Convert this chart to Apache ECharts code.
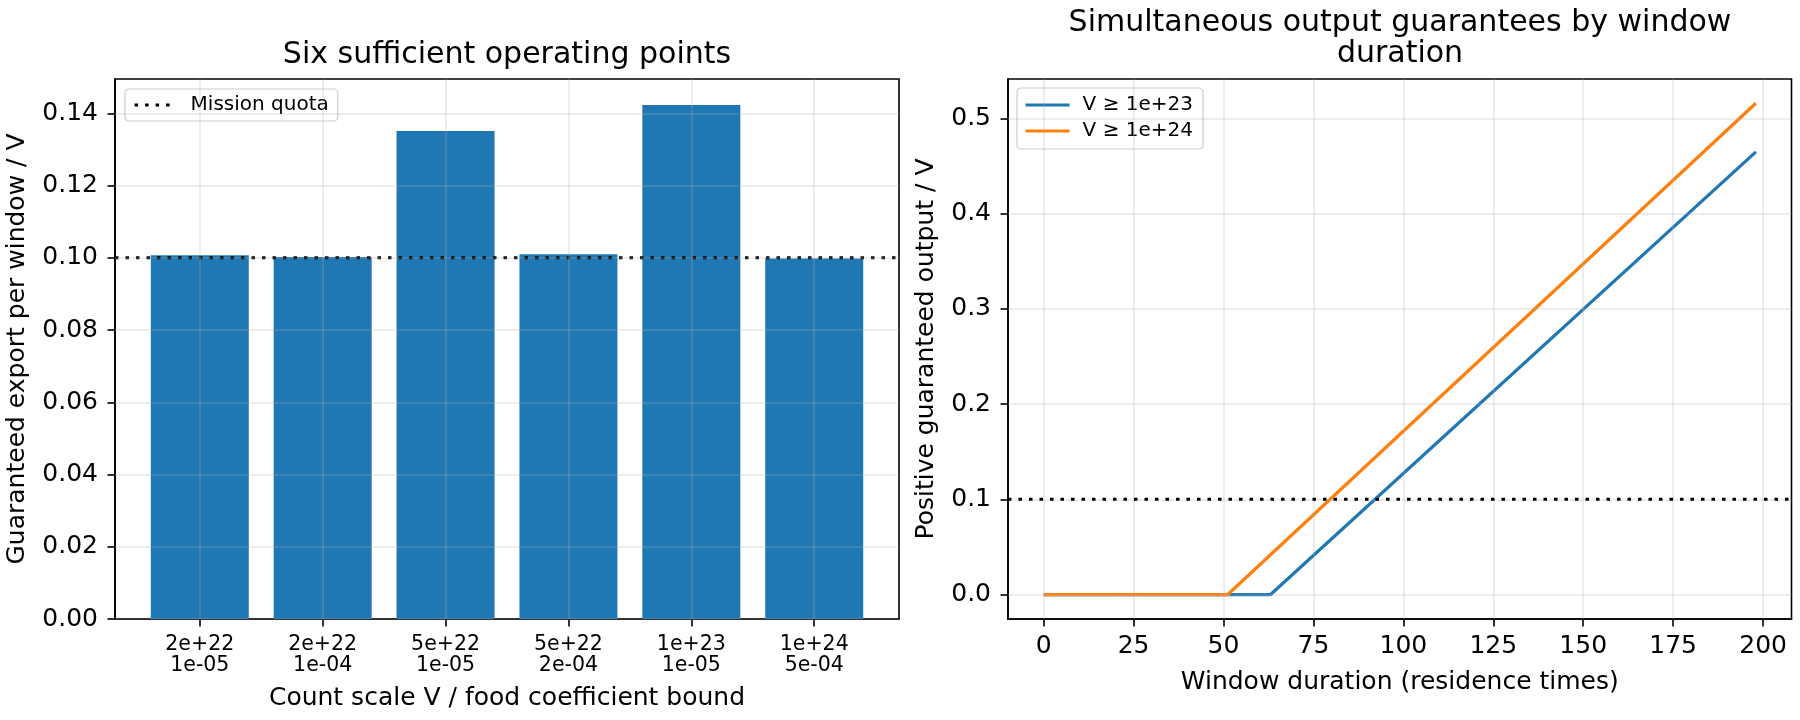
<!DOCTYPE html>
<html>
<head>
<meta charset="utf-8">
<script src="https://cdn.jsdelivr.net/npm/echarts@6/dist/echarts.min.js"></script>
<style>
html, body { margin: 0; padding: 0; background: #fff; }
#main { width: 1800px; height: 720px; }
</style>
</head>
<body>
<div id="main"></div>
<script>
// left panel: operating points
var countScales = ['2e+22', '2e+22', '5e+22', '5e+22', '1e+23', '1e+24'];
var foodBounds = ['1e-05', '1e-04', '1e-05', '2e-04', '1e-05', '5e-04'];
var exportPerWindow = [0.1007, 0.1002, 0.1351, 0.1010, 0.1423, 0.0998];
var missionQuota = 0.10;
var leftYTicks = [0, 0.02, 0.04, 0.06, 0.08, 0.10, 0.12, 0.14];
var leftXTicks = [0, 1, 2, 3, 4, 5];

// right panel: guarantees vs window duration
var durationTicks = [0, 25, 50, 75, 100, 125, 150, 175, 200];
var rightYTicks = [0, 0.1, 0.2, 0.3, 0.4, 0.5];
var guarantee23 = [[0, 0], [63.1, 0], [198, 0.465]];
var guarantee24 = [[0, 0], [51.2, 0], [198, 0.516]];

var FONT = 'DejaVu Sans';
var BLUE = '#1f77b4';
var ORANGE = '#ff7f0e';

var myChart = echarts.init(document.getElementById('main'));

// matplotlib-like grid lines, drawn as mark lines so they can sit above the bars
function gridLines(xs, ys) {
    return {
        silent: true,
        symbol: 'none',
        animation: false,
        label: { show: false },
        emphasis: { disabled: true },
        lineStyle: { color: 'rgba(176,176,176,0.3)', width: 1.6, type: 'solid' },
        data: xs.map(function (v) { return { xAxis: v }; })
            .concat(ys.map(function (v) { return { yAxis: v }; }))
    };
}

var tickStyle = { show: true, inside: false, length: 7.5, lineStyle: { color: '#000', width: 1.6 } };
var axisLineStyle = { show: true, onZero: false, lineStyle: { color: '#000', width: 1.6 } };
var nameStyle = { fontFamily: FONT, fontSize: 25, color: '#000' };
var legendBox = {
    backgroundColor: 'rgba(255,255,255,0.8)',
    borderColor: '#cccccc', borderWidth: 1.2, borderRadius: 4,
    itemStyle: { opacity: 0 },
    lineStyle: { width: 3.2 }
};

var option = {
    animation: false,
    backgroundColor: '#fff',
    textStyle: { fontFamily: FONT },
    graphic: [
        { type: 'text', x: 507, y: 55, style: { text: 'Six sufficient operating points', font: '30px "DejaVu Sans"', fill: '#000', align: 'center', verticalAlign: 'middle' } },
        { type: 'text', x: 1400, y: 39, style: { text: 'Simultaneous output guarantees by window\nduration', font: '30px "DejaVu Sans"', lineHeight: 31, fill: '#000', align: 'center', verticalAlign: 'middle' } }
    ],
    grid: [
        { left: 115, top: 79, width: 784, height: 540, show: true, borderColor: '#000', borderWidth: 1.6, backgroundColor: 'transparent' },
        { left: 1008, top: 79, width: 783.5, height: 540, show: true, borderColor: '#000', borderWidth: 1.6, backgroundColor: 'transparent' }
    ],
    legend: [
        Object.assign({
            data: ['Mission quota'],
            left: 125, top: 89,
            padding: [6, 9, 6, 8],
            itemWidth: 36, itemHeight: 14,
            textStyle: { fontFamily: FONT, fontSize: 20, color: '#000', padding: [0, 0, 0, 15] }
        }, legendBox),
        Object.assign({
            data: ['V ≥ 1e+23', 'V ≥ 1e+24'],
            orient: 'vertical',
            left: 1017, top: 88,
            padding: [7, 10, 8, 7],
            itemWidth: 44, itemHeight: 14, itemGap: 6,
            textStyle: { fontFamily: FONT, fontSize: 20, color: '#000', padding: [0, 0, 0, 8] }
        }, legendBox)
    ],
    xAxis: [
        {
            type: 'value', gridIndex: 0, min: -0.69, max: 5.69,
            name: 'Count scale V / food coefficient bound',
            nameLocation: 'middle', nameGap: 67,
            nameTextStyle: nameStyle,
            axisLine: axisLineStyle,
            axisTick: Object.assign({ customValues: leftXTicks }, tickStyle),
            splitLine: { show: false },
            axisLabel: {
                customValues: leftXTicks,
                fontFamily: FONT, fontSize: 20.5, color: '#000', margin: 15, lineHeight: 21,
                formatter: function (v) { return countScales[v] + '\n' + foodBounds[v]; }
            }
        },
        {
            type: 'value', gridIndex: 1, min: -9.9, max: 207.9,
            name: 'Window duration (residence times)',
            nameLocation: 'middle', nameGap: 51,
            nameTextStyle: nameStyle,
            axisLine: axisLineStyle,
            axisTick: Object.assign({ customValues: durationTicks }, tickStyle),
            splitLine: { show: false },
            axisLabel: {
                customValues: durationTicks,
                fontFamily: FONT, fontSize: 25, color: '#000', margin: 15,
                formatter: function (v) { return String(v); }
            }
        }
    ],
    yAxis: [
        {
            type: 'value', gridIndex: 0, min: 0, max: 0.1495,
            name: 'Guaranteed export per window / V',
            nameLocation: 'middle', nameGap: 85,
            nameTextStyle: nameStyle,
            axisLine: axisLineStyle,
            axisTick: Object.assign({ customValues: leftYTicks }, tickStyle),
            splitLine: { show: false },
            axisLabel: {
                customValues: leftYTicks,
                fontFamily: FONT, fontSize: 25, color: '#000', margin: 17,
                formatter: function (v) { return v.toFixed(2); }
            }
        },
        {
            type: 'value', gridIndex: 1, min: -0.0257, max: 0.5415,
            name: 'Positive guaranteed output / V',
            nameLocation: 'middle', nameGap: 69,
            nameTextStyle: nameStyle,
            axisLine: axisLineStyle,
            axisTick: Object.assign({ customValues: rightYTicks }, tickStyle),
            splitLine: { show: false },
            axisLabel: {
                customValues: rightYTicks,
                fontFamily: FONT, fontSize: 25, color: '#000', margin: 17,
                formatter: function (v) { return v.toFixed(1); }
            }
        }
    ],
    series: [
        {
            name: 'bars', type: 'bar', xAxisIndex: 0, yAxisIndex: 0, z: 2,
            barWidth: 98,
            itemStyle: { color: BLUE },
            emphasis: { disabled: true },
            data: exportPerWindow.map(function (v, i) { return [i, v]; })
        },
        {
            name: 'grid-left', type: 'line', xAxisIndex: 0, yAxisIndex: 0, z: 3,
            data: [], markLine: gridLines(leftXTicks, leftYTicks)
        },
        {
            name: 'Mission quota', type: 'line', xAxisIndex: 0, yAxisIndex: 0, z: 4,
            symbol: 'none', silent: true,
            lineStyle: { color: '#000', width: 3, type: [3.5, 7], cap: 'butt' },
            itemStyle: { color: '#000' },
            data: [[-0.69, missionQuota], [5.69, missionQuota]]
        },
        {
            name: 'grid-right', type: 'line', xAxisIndex: 1, yAxisIndex: 1, z: 1,
            data: [], markLine: gridLines(durationTicks, rightYTicks)
        },
        {
            name: 'V ≥ 1e+23', type: 'line', xAxisIndex: 1, yAxisIndex: 1, z: 3,
            symbol: 'none', silent: true,
            lineStyle: { color: BLUE, width: 3.2 },
            itemStyle: { color: BLUE },
            data: guarantee23
        },
        {
            name: 'V ≥ 1e+24', type: 'line', xAxisIndex: 1, yAxisIndex: 1, z: 4,
            symbol: 'none', silent: true,
            lineStyle: { color: ORANGE, width: 3.2 },
            itemStyle: { color: ORANGE },
            data: guarantee24
        },
        {
            name: 'quota-right', type: 'line', xAxisIndex: 1, yAxisIndex: 1, z: 5,
            symbol: 'none', silent: true,
            lineStyle: { color: '#000', width: 3, type: [3.5, 7], cap: 'butt' },
            data: [[-9.9, missionQuota], [207.9, missionQuota]]
        }
    ]
};
myChart.setOption(option);
</script>
</body>
</html>
